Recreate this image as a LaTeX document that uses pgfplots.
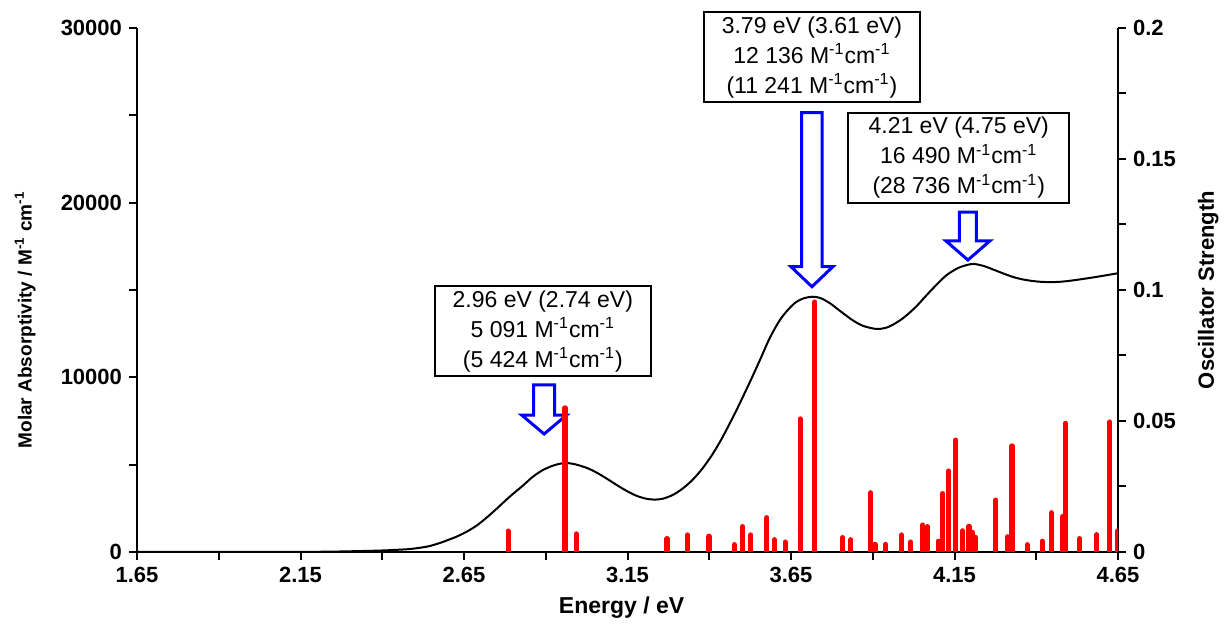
\documentclass[border=0pt]{standalone}
\usepackage{fontspec}
\setmainfont{Liberation Sans}
\usepackage{pgfplots}
\pgfplotsset{compat=1.18}

\begin{document}
\begin{tikzpicture}
\pgfplotsset{
  every axis/.append style={
    scale only axis, width=490.5pt, height=262pt,
    xmin=1.65, xmax=4.65,
    tick align=outside,
    major tick length=4pt, minor tick length=4pt,
    axis line style={line width=1pt},
    every tick/.style={black, line width=1pt},
    tick label style={font=\bfseries\fontsize{11}{13}\selectfont},
    label style={font=\bfseries\fontsize{11}{13}\selectfont},
    /pgf/number format/assume math mode=true,
    /pgf/number format/1000 sep={},
  }
}
% absorption spectrum (left axis)
\begin{axis}[
  name=ax,
  axis y line*=left, axis x line*=bottom,
  ymin=0, ymax=30000,
  scaled y ticks=false,
  ytick={0,10000,20000,30000}, minor ytick={5000,15000,25000},
  xtick={1.65,2.15,2.65,3.15,3.65,4.15,4.65},
  xticklabels={1.65,2.15,2.65,3.15,3.65,4.15,4.65},
  minor xtick={1.9,2.4,2.9,3.4,3.9,4.4},
  xlabel={Energy / eV},
  ylabel={Molar Absorptivity / M\textsuperscript{-1} cm\textsuperscript{-1}},
  xlabel style={at={(axis description cs:0.494,-0.107)}, anchor=center,
    font=\bfseries\fontsize{11.5}{13}\selectfont},
  ylabel style={at={(axis description cs:-0.114,0.443)}, anchor=center,
    font=\bfseries\fontsize{9.5}{12}\selectfont},
  clip=false,
]
\addplot[black, line width=1pt, smooth] coordinates {
(1.65,0) (2.00,0) (2.15,5) (2.24,20) (2.30,40) (2.39,80) (2.45,130) (2.49,180)
(2.54,320) (2.58,540) (2.60,680) (2.63,900) (2.66,1180) (2.69,1530) (2.72,1980)
(2.75,2480) (2.79,3170) (2.83,3800) (2.86,4300) (2.89,4680) (2.92,4930) (2.94,5040)
(2.96,5091) (2.98,5060) (3.00,4970) (3.03,4780) (3.06,4500) (3.09,4160) (3.12,3800)
(3.15,3470) (3.18,3200) (3.21,3040) (3.235,3000) (3.26,3060) (3.29,3280) (3.32,3650)
(3.35,4150) (3.38,4800) (3.41,5600) (3.44,6550) (3.48,8000) (3.52,9560) (3.555,10990)
(3.585,12250) (3.615,13250) (3.64,13850) (3.665,14300) (3.69,14530) (3.715,14615)
(3.74,14540) (3.77,14230) (3.80,13800) (3.84,13250) (3.87,12950) (3.90,12800)
(3.92,12770) (3.95,12900) (3.99,13350) (4.03,14000) (4.065,14710) (4.095,15300)
(4.126,15855) (4.16,16250) (4.19,16440) (4.21,16490) (4.24,16370) (4.27,16160)
(4.30,15940) (4.33,15740) (4.36,15600) (4.40,15490) (4.44,15450) (4.48,15480)
(4.52,15570) (4.56,15680) (4.60,15800) (4.65,15960)
};
% annotation arrows
\draw[blue, line width=1.5pt] (axis cs:2.863,9561) -- (axis cs:2.863,7843) -- (axis cs:2.826,7843)
  -- (axis cs:2.895,6756) -- (axis cs:2.964,7843) -- (axis cs:2.927,7843) -- (axis cs:2.927,9561) -- cycle;
\draw[blue, line width=1.5pt] (axis cs:3.6825,25150) -- (axis cs:3.6825,16333) -- (axis cs:3.650,16333)
  -- (axis cs:3.714,15188) -- (axis cs:3.778,16333) -- (axis cs:3.7455,16333) -- (axis cs:3.7455,25150) -- cycle;
\draw[blue, line width=1.5pt] (axis cs:4.165,19465) -- (axis cs:4.165,17805) -- (axis cs:4.124,17805)
  -- (axis cs:4.191,16717) -- (axis cs:4.258,17805) -- (axis cs:4.217,17805) -- (axis cs:4.217,19465) -- cycle;
% annotation boxes
\tikzset{anno/.style={draw, fill=white, line width=1pt, align=center, inner sep=0pt,
  minimum width=108pt, minimum height=45pt, font=\fontsize{11.5}{15}\selectfont}}
\node[anno] at (axis cs:2.891,12632) {2.96 eV (2.74 eV)\\5 091 M\textsuperscript{-1}cm\textsuperscript{-1}\\(5 424 M\textsuperscript{-1}cm\textsuperscript{-1})};
\node[anno] at (axis cs:3.714,28327) {3.79 eV (3.61 eV)\\12 136 M\textsuperscript{-1}cm\textsuperscript{-1}\\(11 241 M\textsuperscript{-1}cm\textsuperscript{-1})};
\node[anno, minimum width=110.5pt] at (axis cs:4.163,22568) {4.21 eV (4.75 eV)\\16 490 M\textsuperscript{-1}cm\textsuperscript{-1}\\(28 736 M\textsuperscript{-1}cm\textsuperscript{-1})};
\end{axis}
% oscillator strengths (right axis)
\begin{axis}[
  axis y line*=right, axis x line=none,
  ymin=0, ymax=0.2,
  ytick={0,0.05,0.1,0.15,0.2}, minor ytick={0.025,0.075,0.125,0.175},
  yticklabels={0,0.05,0.1,0.15,0.2},
  ylabel={Oscillator Strength},
  ylabel style={at={(axis description cs:1.092,0.50)}, anchor=center},
]
\addplot[ycomb, red, line width=2.6pt, line cap=round] coordinates {
(2.785,0.0080) (2.959,0.0550) (2.993,0.0069) (3.271,0.0051) (3.334,0.0065)
(3.399,0.0060) (3.477,0.0028) (3.502,0.0097) (3.527,0.0065) (3.576,0.0131)
(3.599,0.0047) (3.632,0.0038) (3.678,0.0508) (3.723,0.0954) (3.808,0.0055)
(3.833,0.0047) (3.894,0.0226) (3.907,0.0029) (3.939,0.0029) (3.988,0.0065)
(4.016,0.0038) (4.053,0.0103) (4.067,0.0097) (4.100,0.0041) (4.114,0.0223)
(4.132,0.0309) (4.154,0.0427) (4.175,0.0081) (4.194,0.0098) (4.205,0.0075)
(4.213,0.0056) (4.276,0.0198) (4.312,0.0058) (4.326,0.0405) (4.372,0.0028)
(4.418,0.0041) (4.447,0.0150) (4.480,0.0135) (4.489,0.0491) (4.533,0.0051)
(4.585,0.0066) (4.625,0.0496) (4.648,0.0080)
};
\end{axis}
\pgfresetboundingbox
\path[use as bounding box] ([shift={(-68.5pt,-36pt)}]ax.south west) rectangle ([shift={(544pt,276pt)}]ax.south west);
\end{tikzpicture}
\end{document}
